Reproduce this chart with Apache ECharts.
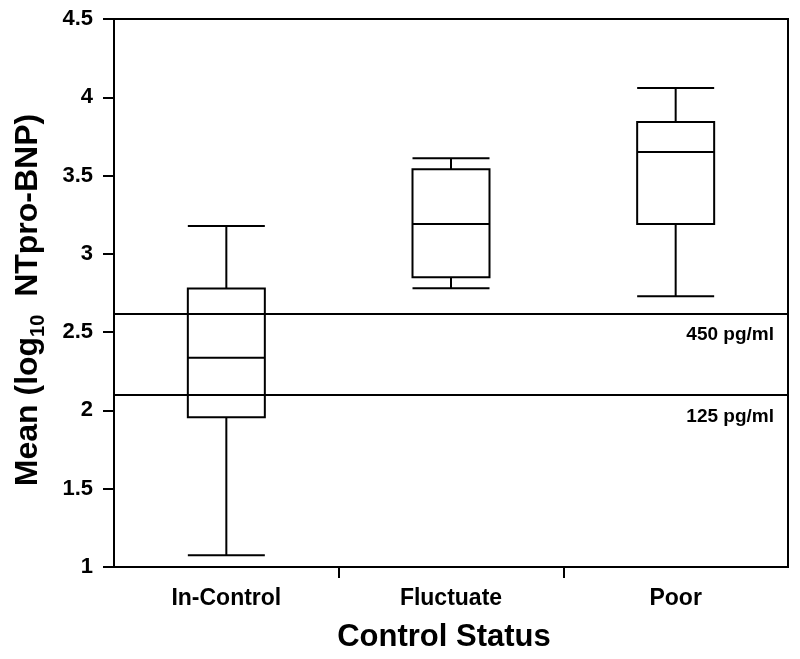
<!DOCTYPE html>
<html>
<head>
<meta charset="utf-8">
<script src="https://cdn.jsdelivr.net/npm/echarts@6/dist/echarts.min.js"></script>
<style>
html,body{margin:0;padding:0;background:#fff;}
#chart{width:800px;height:659px;}
</style>
</head>
<body>
<div id="chart"></div>
<script>
var categories = ['In-Control', 'Fluctuate', 'Poor'];
var whiskerLow = [1.075, 2.78, 2.73];
var q1 = [1.957, 2.85, 3.19];
var median = [2.337, 3.19, 3.65];
var q3 = [2.778, 3.54, 3.842];
var whiskerHigh = [3.178, 3.61, 4.06];
var refValues = [2.62, 2.095];
var refLabels = ['450 pg/ml', '125 pg/ml'];
var yTicks = ['1', '1.5', '2', '2.5', '3', '3.5', '4', '4.5'];
var categoryBoundaries = [1, 2];

var boxData = categories.map(function (c, i) {
  return [whiskerLow[i], q1[i], median[i], q3[i], whiskerHigh[i]];
});

var FONT = '"Liberation Sans", Arial, sans-serif';
var chart = echarts.init(document.getElementById('chart'), null, {renderer: 'canvas'});
chart.setOption({
  backgroundColor: '#fff',
  animation: false,
  grid: {left: 114, right: 12, top: 19, bottom: 92, outerBoundsMode: 'none', containLabel: false, show: true, borderColor: '#000', borderWidth: 2, backgroundColor: 'transparent'},
  xAxis: [{
    type: 'category',
    data: categories,
    boundaryGap: true,
    axisLine: {lineStyle: {color: '#000', width: 2}},
    axisTick: {show: false},
    axisLabel: {color: '#000', fontFamily: FONT, fontWeight: 'bold', fontSize: 23, margin: 20},
    name: 'Control Status',
    nameLocation: 'middle',
    nameGap: 55,
    nameTextStyle: {color: '#000', fontFamily: FONT, fontWeight: 'bold', fontSize: 31, padding: [0, 14, 0, 0]}
  }, {
    type: 'value',
    position: 'bottom',
    min: 0, max: 3,
    axisLine: {show: false},
    axisLabel: {show: false},
    splitLine: {show: false},
    axisTick: {show: true, length: 11, customValues: categoryBoundaries, lineStyle: {color: '#000', width: 2}}
  }],
  yAxis: {
    type: 'value',
    min: 1, max: 4.5, interval: 0.5,
    axisLine: {show: true, lineStyle: {color: '#000', width: 2}},
    axisTick: {show: true, length: 11, lineStyle: {color: '#000', width: 2}},
    splitLine: {show: false},
    axisLabel: {
      color: '#000', fontFamily: FONT, fontWeight: 'bold', fontSize: 22, margin: 21,
      formatter: function (v) { var i = Math.round((v - 1) / 0.5); return yTicks[i]; }
    },
    name: '{a|Mean (log}{s|10}{a|  NTpro-BNP)}',
    nameLocation: 'middle',
    nameGap: 66,
    nameTextStyle: {
      color: '#000', fontFamily: FONT, fontWeight: 'bold', fontSize: 32,
      padding: [0, 14, 0, 0],
      rich: {
        a: {color: '#000', fontFamily: FONT, fontWeight: 'bold', fontSize: 32, lineHeight: 40, verticalAlign: 'middle'},
        s: {color: '#000', fontFamily: FONT, fontWeight: 'bold', fontSize: 20, lineHeight: 40, verticalAlign: 'bottom'}
      }
    }
  },
  series: [{
    type: 'boxplot',
    xAxisIndex: 0,
    data: boxData,
    boxWidth: [77, 77],
    itemStyle: {color: '#fff', borderColor: '#000', borderWidth: 2},
    markLine: {
      silent: true,
      symbol: ['none', 'none'],
      lineStyle: {color: '#000', width: 2, type: 'solid'},
      label: {
        show: true,
        position: 'insideEndBottom',
        distance: [14, 12],
        color: '#000', fontFamily: FONT, fontWeight: 'bold', fontSize: 19,
        formatter: function (p) { return refLabels[p.dataIndex]; }
      },
      data: refValues.map(function (v) { return {yAxis: v}; })
    }
  }]
});
</script>
</body>
</html>
